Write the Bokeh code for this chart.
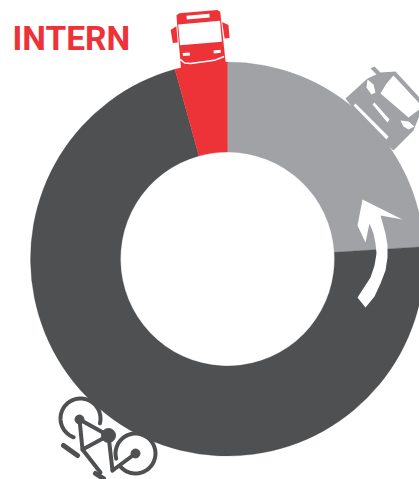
import math
from bokeh.plotting import figure
from bokeh.core.properties import value
from bokeh.models import Range1d
from bokeh.embed import file_html
from bokeh.resources import INLINE

# Modal split shares, clockwise from twelve o'clock
modes = ["Auto", "Fiets", "Bus"]
shares = [24.0, 71.7, 4.3]
colors = ["#a0a2a5", "#4f5052", "#ee3338"]
title = "INTERN"

RED, GREY, DARK = colors[2], colors[0], colors[1]
CX, CY, R_IN, R_OUT = 227, 258.5, 107, 197

p = figure(width=419, height=479, output_backend="svg", toolbar_location=None,
           x_range=Range1d(0, 419), y_range=Range1d(479, 0),
           min_border=0, outline_line_color=None, background_fill_color="white")
p.axis.visible = False
p.grid.visible = False

# Ring, walking clockwise from the top
start = 90.0
total = sum(shares)
for mode, share, color in zip(modes, shares, colors):
    end = start - 360.0 * share / total
    p.annular_wedge(x=[CX], y=[CY], inner_radius=R_IN, outer_radius=R_OUT,
                    start_angle=[math.radians(start)], end_angle=[math.radians(end)],
                    direction="clock", fill_color=color, line_color=color, line_width=0.3)
    start = end

p.text(x=[12], y=[37.5], text=[title], text_color=RED, text_font=value("Roboto"),
       text_font_style="bold", text_font_size="33.5px", text_baseline="alphabetic")


def place(points, ox, oy, deg):
    """Rotate icon-local points by deg and move them to (ox, oy)."""
    a = math.radians(deg)
    c, s = math.cos(a), math.sin(a)
    return ([ox + x * c - y * s for x, y in points],
            [oy + x * s + y * c for x, y in points])


def shape(points, ox=0, oy=0, deg=0, color=DARK):
    xs, ys = place(points, ox, oy, deg)
    p.patch(xs, ys, fill_color=color, line_color=None)


def stroke(points, color, width):
    xs = [pt[0] for pt in points]
    ys = [pt[1] for pt in points]
    p.line(xs, ys, line_color=color, line_width=width, line_cap="round", line_join="round")


def arc_points(cx, cy, r, a0, a1):
    n = 40
    return [(cx + r * math.cos(math.radians(a0 + (a1 - a0) * i / n)),
             cy + r * math.sin(math.radians(a0 + (a1 - a0) * i / n))) for i in range(n + 1)]


# Bus, seen from the front
bx, by, bdeg = 200, 38, -5
shape([(-22, -25), (-19, -27), (19, -27), (22, -25), (23, 28), (-22, 28)], bx, by, bdeg, RED)
shape([(-29, -11), (-24, -14), (-23, -14), (-23, 2), (-28, 2)], bx, by, bdeg, RED)
shape([(23, -14), (24, -14), (29, -11), (29, 2), (24, 2)], bx, by, bdeg, RED)
shape([(-21, -16), (21, -16), (21, 5), (-21, 5)], bx, by, bdeg, "white")
shape([(-12, -24), (11, -24), (11, -20), (-12, -20)], bx, by, bdeg, "white")
shape([(-19, 13), (-12, 13), (-12, 16), (-19, 16)], bx, by, bdeg, "white")
shape([(12, 13), (19, 13), (19, 16), (12, 16)], bx, by, bdeg, "white")
xs, ys = place([(-22, 19), (-18, 23), (-12, 24), (12, 23), (22, 20)], bx, by, bdeg)
p.line(xs, ys, line_color="white", line_width=1.5)

# Car, seen from the front and turned towards the ring
shape([(370, 68), (374, 66), (380, 72), (377, 75)], color=GREY)
shape([(345, 98), (367, 78), (380, 72), (395, 71), (419, 97), (419, 115), (413, 130), (393, 150),
       (370, 130)], color=GREY)
shape([(380, 93), (386, 83), (393, 75), (419, 103), (419, 109), (408, 117)], color="white")
shape([(353, 105), (355, 103), (388, 136), (386, 139)], color="white")
shape([(372, 104), (374, 102), (389, 119), (387, 122)], color="white")
shape([(367, 79), (373, 84), (375, 92), (371, 94), (366, 87)], color="white")
shape([(400, 120), (408, 121), (414, 126), (408, 129), (403, 126)], color="white")

# Curved arrow across the ring
shape([(357, 297), (365, 307), (374, 296), (380, 283), (385, 270), (387, 257), (387, 245), (385, 233),
       (380, 215), (402, 219), (362, 199), (357, 225), (365, 242), (369, 223), (373, 233),
       (375, 243), (376, 253), (374, 265), (370, 277)], color="white")

# Bicycle lying against the ring
W = 4
stroke(arc_points(80, 418, 20, 14, -250), DARK, W)
stroke(arc_points(135, 453, 20, -195, 140), DARK, W)
stroke([(79, 419), (108, 435), (82, 449), (79, 419)], DARK, W)
stroke([(108, 435), (112, 470)], DARK, W)
stroke([(82, 449), (100, 472)], DARK, W)
stroke([(135, 453), (112, 470)], DARK, W)
stroke([(63, 445), (77, 455)], DARK, 5)
stroke([(95, 473), (103, 478)], DARK, 5)
p.scatter(x=[79, 135], y=[419, 453], size=9, color=DARK)
p.scatter(x=[108], y=[435], size=14, color=DARK)

open("out.html", "w").write(file_html(p, INLINE))
